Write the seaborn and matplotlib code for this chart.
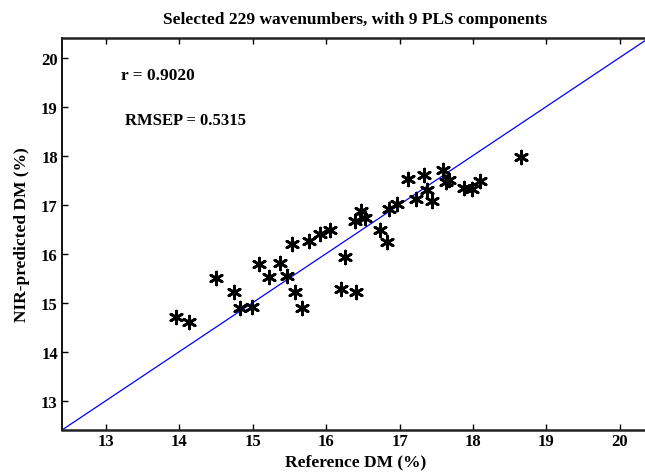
import matplotlib
matplotlib.use("Agg")
import matplotlib.pyplot as plt
import seaborn as sns
import pandas as pd

reference_dm = [13.95, 14.13, 14.50, 14.74, 14.82, 14.99, 15.09, 15.22, 15.37, 15.46,
                15.53, 15.57, 15.67, 15.76, 15.92, 16.05, 16.20, 16.26, 16.41, 16.39,
                16.47, 16.53, 16.74, 16.83, 16.86, 16.96, 17.12, 17.22, 17.33, 17.37,
                17.44, 17.59, 17.63, 17.68, 17.88, 17.99, 18.09, 18.66]
predicted_dm = [14.70, 14.60, 15.50, 15.21, 14.88, 14.92, 15.78, 15.52, 15.80, 15.54,
                16.19, 15.21, 14.89, 16.26, 16.39, 16.48, 15.27, 15.93, 15.21, 16.67,
                16.87, 16.72, 16.48, 16.24, 16.92, 17.02, 17.52, 17.11, 17.61, 17.30,
                17.07, 17.70, 17.47, 17.51, 17.34, 17.32, 17.48, 17.98]

xticks = [13, 14, 15, 16, 17, 18, 19, 20]
yticks = [13, 14, 15, 16, 17, 18, 19, 20]
axis_lim = [12.4, 20.4]

title_text = "Selected 229 wavenumbers, with 9 PLS components"
xlabel_text = "Reference DM (%)"
ylabel_text = "NIR-predicted DM (%)"
r_text = "r = 0.9020"
rmsep_text = "RMSEP = 0.5315"

df = pd.DataFrame({"ref": reference_dm, "pred": predicted_dm})

sns.set_style("white")
plt.rcParams['font.family'] = ['Liberation Serif', 'DejaVu Serif']
plt.rcParams['font.weight'] = 'bold'
plt.rcParams['text.color'] = 'black'
plt.rcParams['axes.labelcolor'] = 'black'
plt.rcParams['xtick.color'] = 'black'
plt.rcParams['ytick.color'] = 'black'

fig = plt.figure(figsize=(6.45, 4.77), dpi=100)
ax = fig.add_axes([62/645, (477-431)/477, 587/645, 392/477])

ax.plot(axis_lim, axis_lim, color='blue', linewidth=0.9, zorder=1)
sns.scatterplot(data=df, x="ref", y="pred", marker=(6, 2, 0), s=85,
                color='black', linewidth=2.0, ax=ax, zorder=2, legend=False)

ax.set_xlim(axis_lim)
ax.set_ylim(axis_lim)
ax.set_xticks(xticks)
ax.set_yticks(yticks)
ax.set_xticklabels([str(t) for t in xticks], fontsize=12, fontweight='bold')
ax.set_yticklabels([str(t) for t in yticks], fontsize=12, fontweight='bold')
ax.tick_params(axis='x', direction='in', length=4, width=1, top=True, bottom=True,
               colors='black', pad=2)
ax.tick_params(axis='y', direction='in', length=4, width=1, left=True, right=False,
               colors='black', pad=3)
for side in ['top', 'bottom']:
    ax.spines[side].set_linewidth(1.8)
    ax.spines[side].set_color('#222222')
for side in ['left', 'right']:
    ax.spines[side].set_linewidth(1.3)
    ax.spines[side].set_color('black')

ax.set_xlabel(xlabel_text, fontsize=12.5, fontweight='bold', labelpad=3)
ax.set_ylabel(ylabel_text, fontsize=12.5, fontweight='bold', labelpad=8)
ax.set_title(title_text, fontsize=12.5, fontweight='bold', pad=11)

ax.text(13.21, 19.65, r_text, fontsize=12.5, fontweight='bold', va='center', ha='left')
ax.text(13.26, 18.72, rmsep_text, fontsize=12, fontweight='bold', va='center', ha='left')

fig.savefig("out.png", dpi=100)
